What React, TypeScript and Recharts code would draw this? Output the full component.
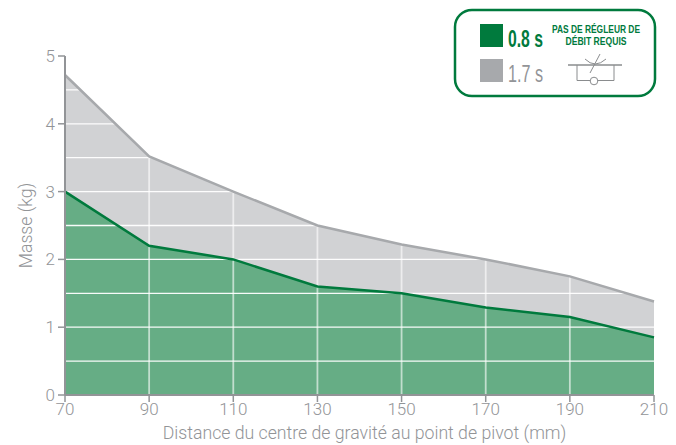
import React from "react";
import { ComposedChart, Area, Line, XAxis, YAxis, CartesianGrid } from "recharts";

const distances = [70, 90, 110, 130, 150, 170, 190, 210];
const slow = [4.72, 3.52, 3.0, 2.5, 2.22, 2.0, 1.75, 1.38];
const fast = [3.0, 2.2, 2.0, 1.6, 1.5, 1.29, 1.15, 0.85];
const yTicks = [0, 1, 2, 3, 4, 5];
const yGrid = [0.5, 1, 1.5, 2, 2.5, 3, 3.5, 4, 4.5];
const xGrid = [90, 110, 130, 150, 170, 190];
const xTitle = "Distance du centre de gravité au point de pivot (mm)";
const yTitle = "Masse (kg)";
const fastLabel = "0.8 s";
const slowLabel = "1.7 s";
const noteLines = ["PAS DE RÉGLEUR DE", "DÉBIT REQUIS"];
const noteWidths = [88, 61];

const data = distances.map((d, i) => ({ d, slow: slow[i], fast: fast[i] }));
const FONT = "Roboto, sans-serif";
const NARROW = "'Liberation Sans', sans-serif";
const GREY = "#929497";
const GREEN = "#007a3d";
const tickStyle = { fill: GREY, fontSize: 17, fontFamily: FONT, fontWeight: 300 };

const Legend = () => (
  <svg width={676} height={445} style={{ position: "absolute", left: 0, top: 0, pointerEvents: "none" }}>
    <rect x={455} y={10} width={200} height={86} rx={17} fill="#fff" stroke={GREEN} strokeWidth={2.5} />
    <rect x={480} y={24} width={23} height={23} fill={GREEN} />
    <rect x={480} y={59} width={23} height={23} fill="#a7a9ac" />
    <text x={508} y={47} textLength={35} lengthAdjust="spacingAndGlyphs" fontFamily={NARROW} fontWeight={700} fontSize={24} fill={GREEN}>{fastLabel}</text>
    <text x={508} y={82} textLength={35} lengthAdjust="spacingAndGlyphs" fontFamily={NARROW} fontSize={24} fill={GREY}>{slowLabel}</text>
    {noteLines.map((line, i) => (
      <text key={line} x={596 - noteWidths[i] / 2} y={33 + i * 11.5} textLength={noteWidths[i]} lengthAdjust="spacingAndGlyphs" fontFamily={NARROW} fontWeight={700} fontSize={11} fill={GREEN}>{line}</text>
    ))}
    <g fill="none" stroke="#8a8c8e" strokeWidth={1}>
      <path d="M568 65 H622" strokeWidth={1.3} />
      <path d="M577 65 V80.5 H614 V65" />
      <circle cx={594} cy={81} r={3.8} fill="#fff" />
      <path d="M590 73 L600 54" />
      <path d="M585 59 Q595 69 606 59" />
    </g>
  </svg>
);

export default function App() {
  return (
    <div style={{ position: "absolute", left: 0, top: 0, width: 676, height: 445, background: "#fff" }}>
      <ComposedChart width={676} height={445} data={data} margin={{ top: 56, right: 22, bottom: 0, left: 0 }}>
        <Area type="linear" dataKey="slow" stroke="none" fill="#d1d2d4" fillOpacity={1} isAnimationActive={false} dot={false} activeDot={false} />
        <Area type="linear" dataKey="fast" stroke="none" fill="#66ad85" fillOpacity={1} isAnimationActive={false} dot={false} activeDot={false} />
        <CartesianGrid zIndex={200} horizontal={false} verticalValues={xGrid} stroke="#ffffff" strokeOpacity={0.6} strokeWidth={1.8} />
        <CartesianGrid zIndex={200} vertical={false} horizontalValues={yGrid} stroke="#ffffff" strokeOpacity={0.95} strokeWidth={1.3} />
        <Line type="linear" dataKey="slow" stroke="#a7a9ac" strokeWidth={2.5} isAnimationActive={false} dot={false} activeDot={false} />
        <Line type="linear" dataKey="fast" stroke={GREEN} strokeWidth={2.5} isAnimationActive={false} dot={false} activeDot={false} />
        <XAxis
          dataKey="d"
          type="number"
          domain={[70, 210]}
          ticks={distances}
          interval={0}
          height={50}
          tickLine={{ stroke: GREY, strokeWidth: 1.5 }}
          tickSize={7}
          tickMargin={1}
          axisLine={{ stroke: GREY, strokeWidth: 2 }}
          tick={tickStyle}
          label={{ value: xTitle, position: "insideBottom", offset: 6, dx: 5, fill: GREY, fontSize: 17.7, fontFamily: FONT, fontWeight: 300 }}
        />
        <YAxis
          type="number"
          domain={[0, 5]}
          ticks={yTicks}
          width={65}
          tickLine={{ stroke: GREY, strokeWidth: 1.5 }}
          tickSize={7}
          tickMargin={3}
          axisLine={{ stroke: GREY, strokeWidth: 2 }}
          tick={tickStyle}
          label={{ value: yTitle, angle: -90, position: "insideLeft", offset: 22, dx: 4, fill: GREY, fontSize: 17.6, fontFamily: FONT, fontWeight: 300, style: { textAnchor: "middle" } }}
        />
      </ComposedChart>
      <Legend />
    </div>
  );
}
